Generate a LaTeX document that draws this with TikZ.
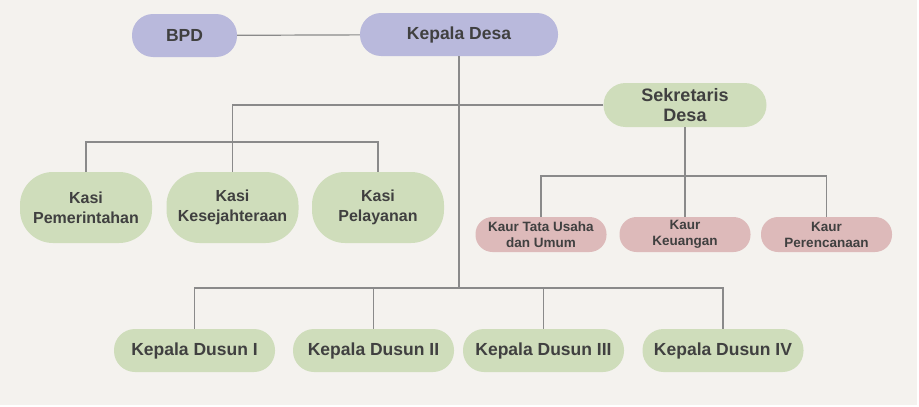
\documentclass[tikz,border=0pt]{standalone}
\usepackage{fontspec}
\setmainfont{Liberation Sans}
\usepackage{xcolor}
\usetikzlibrary{calc}
\definecolor{latar}{HTML}{F4F2EE}
\definecolor{ungu}{HTML}{B9B9DC}
\definecolor{hijau}{HTML}{CFDDBB}
\definecolor{merah}{HTML}{DDBABA}
\definecolor{teks}{HTML}{404040}
\definecolor{garis}{HTML}{8A8A8A}

\begin{document}
\begin{tikzpicture}[x=1pt,y=-1pt]
%
\tikzstyle{pim}=[shape=rectangle,rounded corners=21pt,fill=ungu,minimum height=43pt,text=teks,font=\fontsize{17.5}{20}\selectfont\bfseries]
\tikzstyle{sek}=[shape=rectangle,rounded corners=22pt,fill=hijau,minimum height=44pt,inner sep=2pt,align=center,text=teks,font=\fontsize{18}{20}\selectfont\bfseries]
\tikzstyle{kasi}=[shape=rectangle,rounded corners=33pt,fill=hijau,minimum width=132pt,minimum height=71pt,inner sep=2pt,align=center,text=teks,font=\fontsize{16}{20}\selectfont\bfseries]
\tikzstyle{kaur}=[shape=rectangle,rounded corners=17pt,fill=merah,minimum width=131pt,minimum height=35pt,inner sep=1pt,align=center,text=teks,font=\fontsize{13.5}{16}\selectfont\bfseries]
\tikzstyle{dsn}=[shape=rectangle,rounded corners=21pt,fill=hijau,minimum width=161pt,minimum height=43pt,text=teks,font=\fontsize{17.5}{20}\selectfont\bfseries]
\tikzstyle{ln}=[draw=garis,line width=1.2pt]
%
\useasboundingbox (0,0) rectangle (919,407);
\fill[latar] (0,0) rectangle (917,405);
%
\node[pim,minimum width=105pt](bpd) at (184.5,35.5){BPD};
\node[pim,minimum width=198pt](kades) at (459,34.5){Kepala Desa};
\node[sek,minimum width=163pt](sekdes) at (685,105){Sekretaris\\Desa};
%
\node[kasi](kasi1) at (86,207.5){Kasi\\Pemerintahan};
\node[kasi](kasi2) at (232.5,207.5){Kasi\\Kesejahteraan};
\node[kasi](kasi3) at (378,207.5){Kasi\\Pelayanan};
%
\node[kaur](kaur1) at (541,234.5){Kaur Tata Usaha\\dan Umum};
\node[kaur](kaur2) at (685,234.5){Kaur\\Keuangan};
\node[kaur](kaur3) at (826.5,234.5){Kaur\\Perencanaan};
%
\node[dsn](dsn1) at (194.5,350.5){Kepala Dusun I};
\node[dsn](dsn2) at (373.5,350.5){Kepala Dusun II};
\node[dsn](dsn3) at (543.5,350.5){Kepala Dusun III};
\node[dsn](dsn4) at (723,350.5){Kepala Dusun IV};
%
\coordinate (jkasi) at (232.5,142);
\coordinate (jkaur) at (685,176);
\coordinate (jdsn) at (459,288);
%
\draw[ln] (bpd) -- (kades);
\draw[ln] (kades) -- (jdsn);
\draw[ln] (sekdes) -| (kasi2);
\draw[ln] (kasi1) |- (jkasi) -| (kasi3);
\draw[ln] (sekdes) -- (kaur2);
\draw[ln] (kaur1) |- (jkaur) -| (kaur3);
\draw[ln] (dsn1) |- (jdsn) -| (dsn4);
\draw[ln] (dsn2) -- (dsn2 |- jdsn);
\draw[ln] (dsn3) -- (dsn3 |- jdsn);
\end{tikzpicture}
\end{document}
